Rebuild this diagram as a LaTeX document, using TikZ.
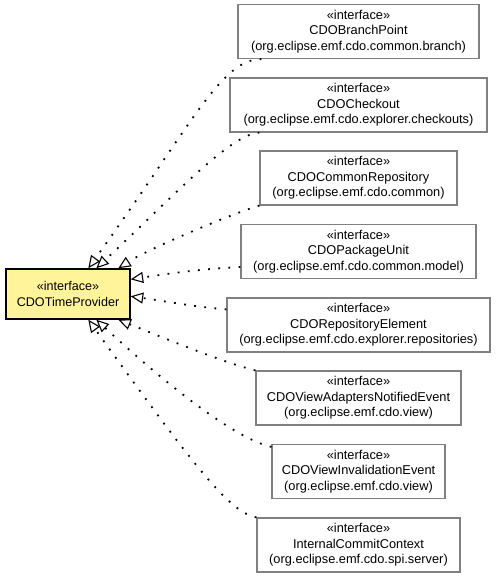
\documentclass[tikz,border=0pt]{standalone}
\usepackage{fontspec}
\setmainfont{Liberation Sans}
\usetikzlibrary{arrows.meta}
\definecolor{ifyellow}{RGB}{255,244,153}
\definecolor{boxgray}{RGB}{128,128,128}
\tikzset{
  ibox/.style={draw=boxgray, line width=1.2pt, fill=white, align=center, inner sep=0pt,
    minimum height=54pt, font=\fontsize{12.8}{15.5}\selectfont},
  mainbox/.style={draw=black, line width=1.4pt, fill=ifyellow, align=center, inner sep=0pt,
    minimum width=124pt, minimum height=50pt, font=\fontsize{12.6}{16}\selectfont},
  realize/.style={line width=1.8pt, dash pattern=on 1.8pt off 8.4pt,
    -{Triangle[length=12.5pt,width=11pt,fill=white,line width=1.1pt]}}
}
\begin{document}
\begin{tikzpicture}[x=1pt,y=-1pt]
\useasboundingbox (0,0) rectangle (496,577);
\node[mainbox] (tp) at (68,294) {«interface»\\CDOTimeProvider};
\node[ibox, minimum width=241pt] (b1) at (358.5,31.5) {«interface»\\CDOBranchPoint\\(org.eclipse.emf.cdo.common.branch)};
\node[ibox, minimum width=257pt] (b2) at (358.5,105) {«interface»\\CDOCheckout\\(org.eclipse.emf.cdo.explorer.checkouts)};
\node[ibox, minimum width=197pt] (b3) at (358.5,178) {«interface»\\CDOCommonRepository\\(org.eclipse.emf.cdo.common)};
\node[ibox, minimum width=235pt] (b4) at (358.5,251.5) {«interface»\\CDOPackageUnit\\(org.eclipse.emf.cdo.common.model)};
\node[ibox, minimum width=263pt] (b5) at (358.5,325) {«interface»\\CDORepositoryElement\\(org.eclipse.emf.cdo.explorer.repositories)};
\node[ibox, minimum width=205pt] (b6) at (358.5,398) {«interface»\\CDOViewAdaptersNotifiedEvent\\(org.eclipse.emf.cdo.view)};
\node[ibox, minimum width=173pt] (b7) at (358.5,471.5) {«interface»\\CDOViewInvalidationEvent\\(org.eclipse.emf.cdo.view)};
\node[ibox, minimum width=203pt] (b8) at (358.5,545) {«interface»\\InternalCommitContext\\(org.eclipse.emf.cdo.spi.server)};

\draw[realize] ([xshift=24pt]b1.south west) .. controls +(-40,0) and +(105,-146) .. ([xshift=83pt]tp.north west);
\draw[realize] ([xshift=30pt]b2.south west) .. controls +(-28,1) and +(80,-75) .. ([xshift=91pt]tp.north west);
\draw[realize] (b3.south west) .. controls +(-22,6) and +(31,-20) .. ([xshift=113pt]tp.north west);
\draw[realize] ([yshift=-15.5pt]b4.west) .. controls +(-40,2) and +(40,-6) .. ([yshift=-11pt]tp.north east);
\draw[realize] ([yshift=-12pt]b5.north west) .. controls +(-35,-3) and +(35,5) .. ([yshift=-28pt]tp.north east);
\draw[realize] (b6.north west) .. controls +(-30,-7) and +(40,16) .. ([xshift=113pt]tp.south west);
\draw[realize] ([yshift=-3pt]b7.north west) .. controls +(-32,-7) and +(81,75) .. ([xshift=91pt]tp.south west);
\draw[realize] (b8.north west) .. controls +(-27,-5) and +(106,147) .. ([xshift=83pt]tp.south west);
\end{tikzpicture}
\end{document}
